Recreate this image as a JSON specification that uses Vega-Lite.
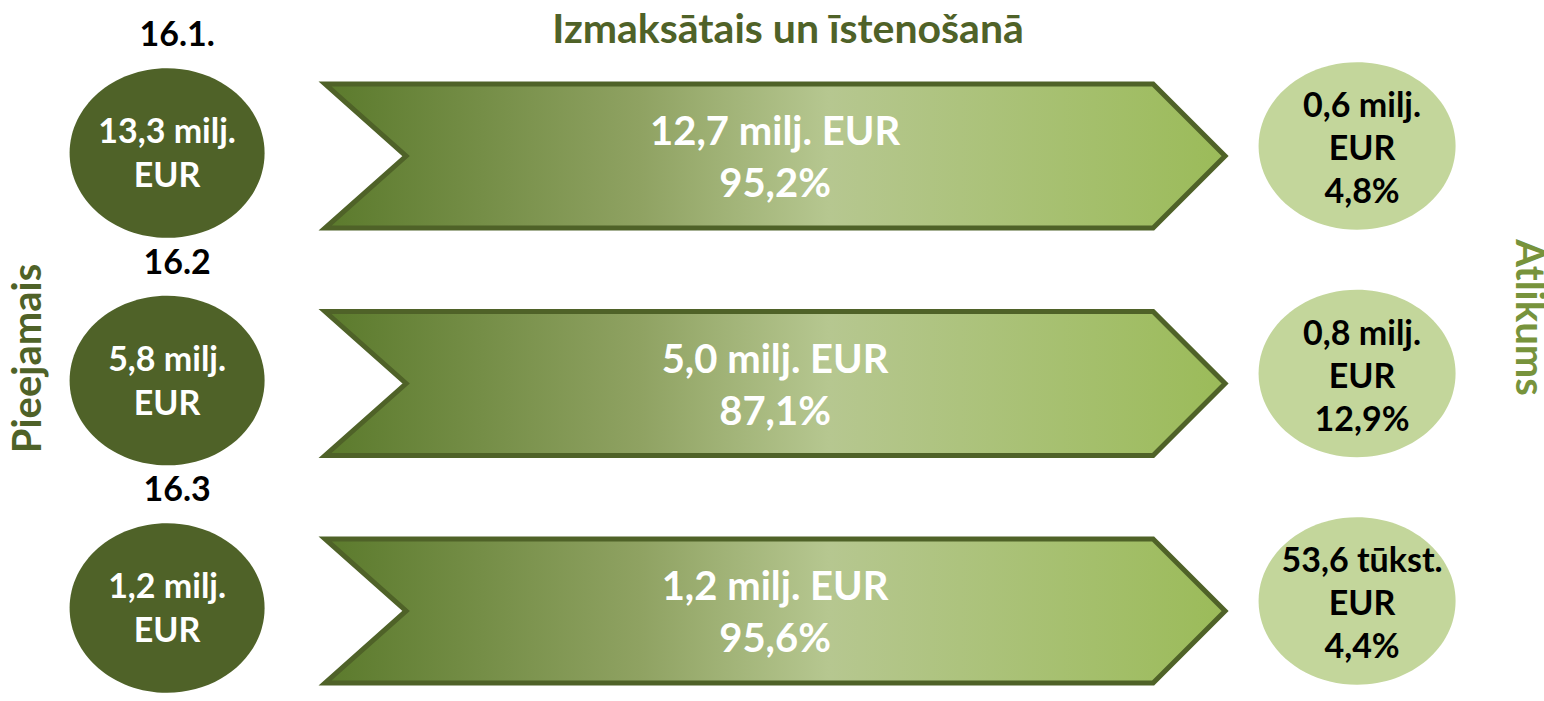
{
  "$schema": "https://vega.github.io/schema/vega-lite/v6.json",
  "width": 1544,
  "height": 641,
  "autosize": {"type": "none"},
  "padding": {"left": 0, "right": 0, "top": 60, "bottom": 0},
  "background": "white",
  "config": {"view": {"stroke": null}},
  "title": {
    "text": "Izmaksātais un īstenošanā",
    "font": "Lato",
    "fontSize": 41,
    "fontWeight": "bold",
    "color": "#4f6228",
    "anchor": "middle",
    "offset": -33,
    "dx": 16
  },
  "data": {
    "values": [
      {"program": "16.1.", "available": "13,3 milj.\nEUR", "spent": "12,7 milj. EUR\n95,2%", "remaining": "0,6 milj.\nEUR\n4,8%"},
      {"program": "16.2", "available": "5,8 milj.\nEUR", "spent": "5,0 milj. EUR\n87,1%", "remaining": "0,8 milj.\nEUR\n12,9%"},
      {"program": "16.3", "available": "1,2 milj.\nEUR", "spent": "1,2 milj. EUR\n95,6%", "remaining": "53,6 tūkst.\nEUR\n4,4%"}
    ]
  },
  "transform": [{"fold": ["available", "spent", "remaining"], "as": ["part", "label"]}],
  "encoding": {
    "x": {
      "field": "part",
      "type": "nominal",
      "scale": {"type": "point", "domain": ["available", "spent", "remaining"], "padding": 0.2975, "align": 0.472},
      "axis": null
    }
  },
  "layer": [
    {
      "transform": [{"filter": "datum.part === 'available'"}],
      "mark": {"type": "point", "filled": true, "opacity": 1, "shape": "M -1 0 A 1 0.87 0 1 0 1 0 A 1 0.87 0 1 0 -1 0 Z", "size": 38025, "color": "#4f6228"},
      "encoding": {
        "y": {
          "field": "program", "type": "nominal",
          "scale": {"type": "point", "padding": 0.409},
          "axis": {"orient": "left", "title": "Pieejamais", "titleFont": "Lato", "titleFontSize": 40, "titleFontWeight": "bold", "titleColor": "#4f6228", "labels": false, "ticks": false, "domain": false, "grid": false, "offset": -50, "titlePadding": 2, "titleY": 298}
        }
      }
    },
    {
      "transform": [{"filter": "datum.part === 'spent'"}],
      "mark": {
        "type": "point", "filled": true, "opacity": 1, "xOffset": 13, "yOffset": 3,
        "shape": "M -1 -0.16 L 0.84 -0.16 L 1 0 L 0.84 0.16 L -1 0.16 L -0.82 0 Z",
        "size": 810000,
        "fill": {"gradient": "linear", "x1": 0, "y1": 0, "x2": 1, "y2": 0, "stops": [
          {"offset": 0, "color": "#5b7a2c"},
          {"offset": 0.35, "color": "#8fa262"},
          {"offset": 0.56, "color": "#b6c790"},
          {"offset": 1, "color": "#9bbb59"}
        ]},
        "stroke": "#4f6228", "strokeWidth": 5, "strokeOpacity": 1, "fillOpacity": 1
      },
      "encoding": {
        "y": {"field": "program", "type": "nominal", "scale": {"type": "point", "padding": 0.409}, "axis": null}
      }
    },
    {
      "transform": [{"filter": "datum.part === 'remaining'"}],
      "mark": {"type": "point", "filled": true, "opacity": 1, "yOffset": -7, "shape": "M -1 0 A 1 0.85 0 1 0 1 0 A 1 0.85 0 1 0 -1 0 Z", "size": 38809, "color": "#c3d69b"},
      "encoding": {
        "y": {
          "field": "program", "type": "nominal",
          "scale": {"type": "point", "padding": 0.409},
          "axis": {"orient": "right", "title": "Atlikums", "titleFont": "Lato", "titleFontSize": 40, "titleFontWeight": "bold", "titleColor": "#77933c", "labels": false, "ticks": false, "domain": false, "grid": false, "offset": -39, "titlePadding": 2, "titleY": 257}
        }
      }
    },
    {
      "transform": [{"filter": "datum.part === 'available'"}],
      "mark": {"type": "text", "font": "Lato", "fontSize": 34, "fontWeight": "bold", "color": "white", "align": "center", "baseline": "middle", "lineBreak": "\n", "lineHeight": 44, "yOffset": -20},
      "encoding": {
        "y": {"field": "program", "type": "nominal", "scale": {"type": "point", "padding": 0.409}, "axis": null},
        "text": {"field": "label"}
      }
    },
    {
      "transform": [{"filter": "datum.part === 'spent'"}],
      "mark": {"type": "text", "font": "Lato", "fontSize": 40, "fontWeight": "bold", "color": "white", "align": "center", "baseline": "middle", "lineBreak": "\n", "lineHeight": 52, "xOffset": 13, "yOffset": -20},
      "encoding": {
        "y": {"field": "program", "type": "nominal", "scale": {"type": "point", "padding": 0.409}, "axis": null},
        "text": {"field": "label"}
      }
    },
    {
      "transform": [{"filter": "datum.part === 'remaining'"}],
      "mark": {"type": "text", "font": "Lato", "fontSize": 34, "fontWeight": "bold", "color": "black", "align": "center", "baseline": "middle", "lineBreak": "\n", "lineHeight": 43, "yOffset": -46, "xOffset": 5},
      "encoding": {
        "y": {"field": "program", "type": "nominal", "scale": {"type": "point", "padding": 0.409}, "axis": null},
        "text": {"field": "label"}
      }
    },
    {
      "transform": [{"filter": "datum.part === 'available'"}],
      "mark": {"type": "text", "font": "Lato", "fontSize": 34, "fontWeight": "bold", "color": "black", "align": "center", "baseline": "middle", "dx": 10, "dy": -117},
      "encoding": {
        "y": {"field": "program", "type": "nominal", "scale": {"type": "point", "padding": 0.409}, "axis": null},
        "text": {"field": "program"}
      }
    }
  ],
  "resolve": {"axis": {"y": "independent"}}
}
